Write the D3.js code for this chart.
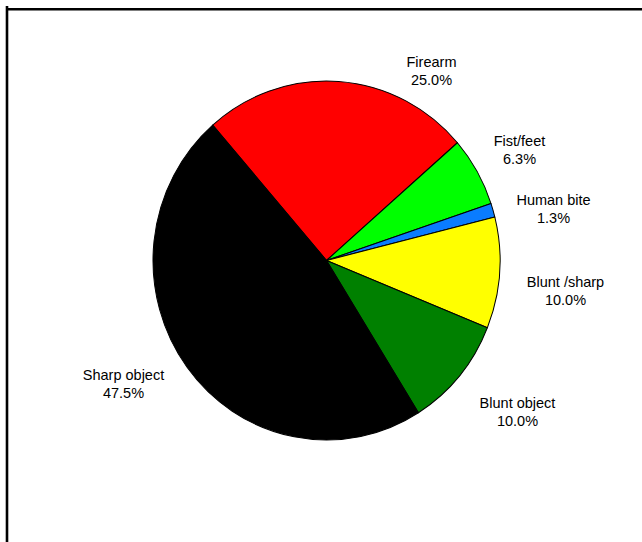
<!DOCTYPE html>
<html>
<head>
<meta charset="utf-8">
<script src="https://cdn.jsdelivr.net/npm/d3@7"></script>
<style>
  body { margin: 0; background: #fff; }
  text { font-family: "Liberation Sans", Arial, sans-serif; }
</style>
</head>
<body>
<svg id="mainsvg" width="642" height="542"></svg>
<script>
// data: injury mechanism counts (n = 80)
const categories = ['Firearm', 'Fist/feet', 'Human bite', 'Blunt /sharp', 'Blunt object', 'Sharp object'];
const counts = [20, 5, 1, 8, 8, 38];
const percentLabels = ['25.0%', '6.3%', '1.3%', '10.0%', '10.0%', '47.5%'];
const sliceColors = ['#ff0000', '#00ff00', '#0a7cff', '#ffff00', '#008000', '#000000'];

// layout
const svg = d3.select('#mainsvg');
const cx = 326.5, cy = 260.5;
const rx = 173.5, ry = 179.5;
const startDeg = -41;
// label anchors, offsets from the pie centre (text centre x, first baseline y)
const labelOffsets = [[105, -194], [193, -115], [227, -56], [239, 26], [191, 147], [-203, 119]];

// frame
svg.append('line')
  .attr('x1', 7).attr('y1', 6).attr('x2', 7).attr('y2', 542)
  .attr('stroke', '#000').attr('stroke-width', 2.6);
svg.append('line')
  .attr('x1', 6).attr('y1', 9.3).attr('x2', 642).attr('y2', 9.3)
  .attr('stroke', '#000').attr('stroke-width', 2.6);

const pie = d3.pie()
  .sort(null)
  .value(d => d)
  .startAngle(startDeg * Math.PI / 180)
  .endAngle(startDeg * Math.PI / 180 + 2 * Math.PI);

const arc = d3.arc().innerRadius(0).outerRadius(rx);

const g = svg.append('g')
  .attr('transform', `translate(${cx}, ${cy}) scale(1, ${ry / rx})`);

g.selectAll('path')
  .data(pie(counts))
  .join('path')
  .attr('d', arc)
  .attr('fill', (d, i) => sliceColors[i])
  .attr('stroke', '#000')
  .attr('stroke-width', 1)
  .attr('stroke-linejoin', 'round');

// labels
const labels = svg.append('g')
  .attr('transform', `translate(${cx}, ${cy})`);

const lab = labels.selectAll('text')
  .data(categories)
  .join('text')
  .attr('text-anchor', 'middle')
  .attr('font-size', '14.5px')
  .attr('fill', '#000')
  .attr('x', (d, i) => labelOffsets[i][0])
  .attr('y', (d, i) => labelOffsets[i][1]);

lab.append('tspan')
  .attr('x', (d, i) => labelOffsets[i][0])
  .text(d => d);
lab.append('tspan')
  .attr('x', (d, i) => labelOffsets[i][0])
  .attr('dy', 18.5)
  .text((d, i) => percentLabels[i]);
</script>
</body>
</html>
